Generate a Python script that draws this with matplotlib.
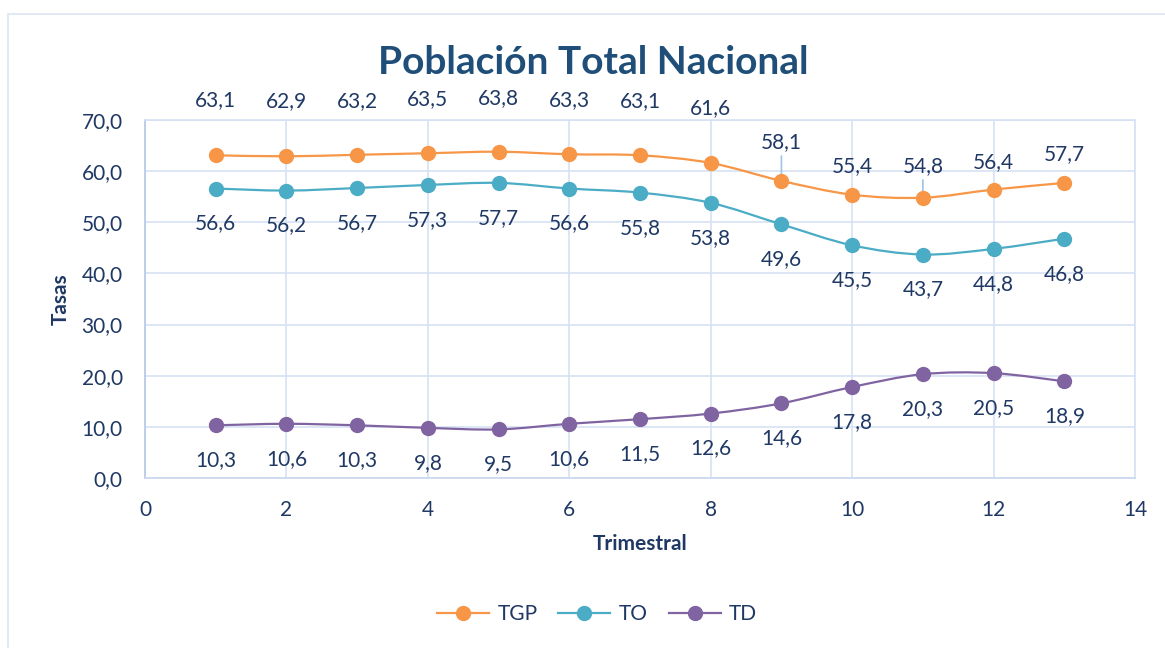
import numpy as np
import matplotlib
matplotlib.use("Agg")
import matplotlib.pyplot as plt
from matplotlib.path import Path
from matplotlib.patches import PathPatch, Rectangle
from matplotlib.lines import Line2D

plt.rcParams["font.family"] = ["Lato", "DejaVu Sans"]

trimestre = [1, 2, 3, 4, 5, 6, 7, 8, 9, 10, 11, 12, 13]
tgp = [63.1, 62.9, 63.2, 63.5, 63.8, 63.3, 63.1, 61.6, 58.1, 55.4, 54.8, 56.4, 57.7]
to = [56.6, 56.2, 56.7, 57.3, 57.7, 56.6, 55.8, 53.8, 49.6, 45.5, 43.7, 44.8, 46.8]
td = [10.3, 10.6, 10.3, 9.8, 9.5, 10.6, 11.5, 12.6, 14.6, 17.8, 20.3, 20.5, 18.9]

TXT = "#1F3864"
GRID = "#D6E1F2"
series = [("TGP", tgp, "#F79646"), ("TO", to, "#4BACC6"), ("TD", td, "#8064A2")]

# label offsets in pixels (TGP above the point)
tgp_dy = [55, 55, 54, 54, 54, 54, 54, 55, 39, 29, 32, 27, 29]
below_dy = -35
PX = 72 / 100


def smooth_path(x, y):
    # Excel-like smoothed line: Catmull-Rom as cubic Bezier
    p = np.column_stack([x, y]).astype(float)
    verts = [p[0]]
    codes = [Path.MOVETO]
    n = len(p)
    for i in range(n - 1):
        p0 = p[i - 1] if i > 0 else p[i]
        p1 = p[i]
        p2 = p[i + 1]
        p3 = p[i + 2] if i + 2 < n else p[i + 1]
        c1 = p1 + (p2 - p0) / 6.0
        c2 = p2 - (p3 - p1) / 6.0
        verts += [c1, c2, p2]
        codes += [Path.CURVE4] * 3
    return Path(verts, codes)


def fmt(v):
    return f"{v:.1f}".replace(".", ",")


fig = plt.figure(figsize=(11.65, 6.48), dpi=100)
fig.patches.append(Rectangle((8 / 1165, -0.01), 1.0, 1 - 14 / 648 + 0.01,
                             transform=fig.transFigure, fill=False,
                             edgecolor="#DCE5F3", linewidth=1.2))
ax = fig.add_axes([145 / 1165, 1 - 478 / 648, 990 / 1165, 358 / 648])

for name, vals, col in series:
    ax.add_patch(PathPatch(smooth_path(trimestre, vals), fill=False,
                           edgecolor=col, linewidth=1.6, zorder=3))
    ax.plot(trimestre, vals, linestyle="none", marker="o", markersize=10,
            color=col, zorder=4)

for i, (x, v) in enumerate(zip(trimestre, tgp)):
    kw = dict(textcoords="offset points", ha="center", va="center",
              fontsize=15, color=TXT)
    if i in (8, 10):
        kw["arrowprops"] = dict(arrowstyle="-", color="#9DC3E6", lw=1.2,
                                shrinkA=1, shrinkB=2)
    ax.annotate(fmt(v), (x, v), xytext=(0, tgp_dy[i] * PX), **kw)
for vals in (to, td):
    for x, v in zip(trimestre, vals):
        ax.annotate(fmt(v), (x, v), xytext=(0, below_dy * PX),
                    textcoords="offset points", ha="center", va="center",
                    fontsize=15, color=TXT)

ax.set_xlim(0, 14)
ax.set_ylim(0, 70)
ax.set_xticks(range(0, 15, 2))
ax.set_yticks(range(0, 71, 10))
ax.set_yticklabels([fmt(t) for t in range(0, 71, 10)])
ax.tick_params(length=0, labelsize=15, labelcolor=TXT, pad=16)
ax.grid(True, color=GRID, linewidth=1.2)
ax.set_axisbelow(True)
for s in ax.spines.values():
    s.set_color(GRID)
    s.set_linewidth(1.2)
ax.spines["left"].set_color("#B4C7E7")
ax.spines["bottom"].set_color("#C9D7EE")

ax.set_xlabel("Trimestral", fontsize=15, fontweight="bold", color=TXT, labelpad=10)
ax.set_ylabel("Tasas", fontsize=15, fontweight="bold", color=TXT, labelpad=8)
fig.text(593 / 1165, 1 - 62 / 648, "Población Total Nacional", ha="center",
         va="center", fontsize=28, fontweight="bold", color="#1F4E79")

handles = [Line2D([0], [0], color=c, lw=1.6, marker="o", markersize=10)
           for _, _, c in series]
fig.legend(handles, [s[0] for s in series], loc="center",
           bbox_to_anchor=(597 / 1165, 1 - 614 / 648), ncol=3, frameon=False,
           fontsize=15, labelcolor=TXT, handlelength=2.5, columnspacing=1.0,
           handletextpad=0.4)

fig.savefig("out.png", dpi=100)
